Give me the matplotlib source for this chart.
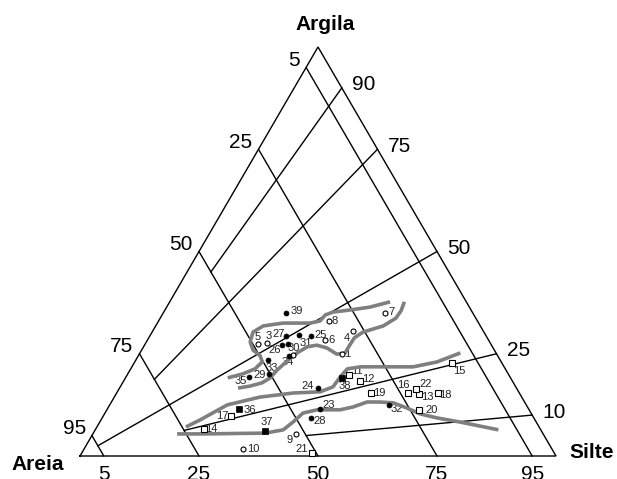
import matplotlib
matplotlib.use('Agg')
import matplotlib.pyplot as plt

plt.rcParams['font.family'] = ['Liberation Sans', 'DejaVu Sans']

# sample compositions (%)
ids = ['1', '3', '4', '5', '6', '7', '8', '9', '10', '34',
       '23', '24', '25', '26', '', '27', '28', '29', '30', '31', '32', '33', '35', '39',
       '11', '12', '13', '14', '15', '16', '17', '18', '19', '20', '21', '22',
       '36', '37', '38']
areia = [32.5, 47.0, 27.5, 49.0, 34.4, 18.4, 31.2, 51.9, 64.9, 42.9,
         43.9, 41.8, 36.9, 43.9, 42.6, 42.0, 46.9, 50.2, 43.8, 39.2, 28.8, 48.9, 54.7, 39.2,
         33.5, 32.1, 21.1, 70.7, 10.4, 23.4, 63.3, 17.2, 31.3, 23.2, 50.9, 21.2,
         60.8, 58.1, 35.4]
silte = [42.5, 25.4, 42.0, 23.6, 37.3, 46.6, 35.8, 42.6, 33.4, 32.5,
         44.7, 41.6, 33.8, 28.9, 29.9, 28.7, 43.8, 29.7, 31.8, 31.3, 58.7, 27.7, 25.9, 25.9,
         46.7, 49.6, 63.7, 22.7, 66.9, 61.3, 26.9, 67.5, 53.4, 65.6, 48.4, 62.4,
         27.8, 35.8, 45.6]
argila = [25.0, 27.6, 30.5, 27.4, 28.3, 35.0, 33.0, 5.5, 1.7, 24.6,
          11.4, 16.6, 29.3, 27.2, 27.5, 29.3, 9.3, 20.1, 24.4, 29.5, 12.5, 23.4, 19.4, 34.9,
          19.8, 18.3, 15.2, 6.6, 22.7, 15.3, 9.8, 15.3, 15.3, 11.2, 0.7, 16.4,
          11.4, 6.1, 19.0]
kind = ['oc'] * 10 + ['fc'] * 14 + ['os'] * 12 + ['fs'] * 3

# classification grid
sand_lines = [5, 25, 50, 75, 95]
ratio_lines = [90, 75, 50, 25, 10]      # argila / (argila + silte), %
ratio_stop = [50, 75, 95, 75, 50]       # areia % where each ratio line ends

# grey group boundaries, (silte %, argila %)
top_upper = [(21.5, 19.1), (24.2, 20.1), (26.1, 21.3), (26.8, 23.0), (25.6, 24.5),
             (23.4, 25.9), (21.8, 27.9), (21.2, 30.3), (22.6, 31.8), (26.4, 32.5),
             (32.1, 32.5), (33.9, 33.0), (34.3, 34.5), (35.6, 35.2), (38.9, 35.7),
             (42.7, 36.4), (46.3, 37.7)]
top_lower = [(24.9, 16.6), (27.2, 17.1), (29.3, 17.9), (30.4, 19.1), (30.9, 21.0),
             (31.9, 23.2), (33.0, 25.2), (34.4, 26.7), (36.2, 27.1), (38.7, 26.4),
             (41.5, 24.9), (43.1, 25.2), (43.1, 26.9), (43.2, 28.9), (44.3, 30.3),
             (47.8, 31.8), (49.5, 33.7), (49.7, 35.5), (49.3, 37.7)]
middle = [(18.7, 7.1), (20.8, 8.8), (24.7, 12.5), (30.6, 14.4), (37.1, 15.4),
          (42.6, 15.7), (44.7, 16.9), (45.0, 19.3), (45.5, 21.3), (48.0, 21.8),
          (53.6, 21.8), (59.1, 21.8), (63.5, 23.0), (67.3, 25.2)]
bottom = [(17.7, 5.4), (23.2, 5.4), (36.1, 5.6), (39.5, 6.4), (40.6, 8.3),
          (41.6, 10.5), (44.2, 11.3), (49.0, 11.3), (51.4, 12.0), (53.7, 13.2),
          (56.4, 13.2), (59.3, 13.0), (62.9, 11.7), (66.3, 10.3), (70.4, 9.3),
          (75.7, 8.3), (84.7, 6.4)]

# label offsets in pixels (dx right, dy down) from each point
label_off = {'1': (5, 0), '3': (2, -7), '4': (-6, 7), '5': (0, -7), '6': (7, 0),
             '7': (6, -1), '8': (6, 0), '9': (-6, 6), '10': (10, 0), '34': (-5, 7),
             '23': (9, -4), '24': (-10, -2), '25': (10, -1), '26': (-8, 5), '27': (-8, -2),
             '28': (9, 3), '29': (-10, 1), '30': (4, -8), '31': (7, 8), '32': (8, 4),
             '33': (4, 8), '35': (-9, 4), '39': (10, -2),
             '11': (7, -4), '12': (9, -2), '13': (8, 3), '14': (8, 0), '15': (7, 8),
             '16': (-5, -8), '17': (-9, 0), '18': (8, 2), '19': (9, 0), '20': (13, 0),
             '21': (-10, -4), '22': (10, -5), '36': (10, 1), '37': (2, -9), '38': (3, 8)}

PX = 0.72  # points per pixel at 100 dpi


def to_xy(s, c):
    return s / 100 + c / 200, c / 100


fig = plt.figure(figsize=(6.17, 4.79), dpi=100)
ax = fig.add_axes([0, 0, 1, 1])
ax.set_xlim(-80 / 476, 537 / 476)
ax.set_ylim(-23 / 409, 456 / 409)
ax.axis('off')

lw = 1.0
# triangle
tx, ty = zip(*[to_xy(0, 0), to_xy(100, 0), to_xy(0, 100), to_xy(0, 0)])
ax.plot(tx, ty, color='black', lw=lw, solid_joinstyle='miter')

# constant areia lines
for a in sand_lines:
    x0, y0 = to_xy(0, 100 - a)
    x1, y1 = to_xy(100 - a, 0)
    ax.plot([x0, x1], [y0, y1], color='black', lw=lw)
    ax.annotate(str(a), (x0, y0), xytext=(-6 * PX, 7 * PX), textcoords='offset points',
                ha='right', va='center', fontsize=15)
    ax.annotate(str(100 - a), (x1, y1), xytext=(0, -9 * PX), textcoords='offset points',
                ha='center', va='top', fontsize=15)

# argila/silte ratio lines
for f, stop in zip(ratio_lines, ratio_stop):
    x0, y0 = to_xy(100 - f, f)
    fines = 100 - stop
    x1, y1 = to_xy(fines * (100 - f) / 100, fines * f / 100)
    ax.plot([x0, x1], [y0, y1], color='black', lw=lw)
    ax.annotate(str(f), (x0, y0), xytext=(10 * PX, 3 * PX), textcoords='offset points',
                ha='left', va='center', fontsize=15)

# grey boundaries
for curve in [top_upper, top_lower, middle, bottom]:
    xs, ys = zip(*[to_xy(s, c) for s, c in curve])
    ax.plot(xs, ys, color='#7f7f7f', lw=2.6, solid_joinstyle='round',
            solid_capstyle='butt', zorder=3)

# samples
styles = {'oc': dict(marker='o', mfc='white', mec='black', ms=3.6, mew=0.8),
          'fc': dict(marker='o', mfc='black', mec='black', ms=3.6, mew=0.5),
          'os': dict(marker='s', mfc='white', mec='black', ms=4.0, mew=0.8),
          'fs': dict(marker='s', mfc='black', mec='black', ms=4.6, mew=0.5)}
for name, a, s, c, k in zip(ids, areia, silte, argila, kind):
    tot = a + s + c
    x, y = to_xy(100 * s / tot, 100 * c / tot)
    ax.plot([x], [y], ls='none', zorder=4, **styles[k])
    if name:
        dx, dy = label_off[name]
        ax.annotate(name, (x, y), xytext=(dx * PX, -dy * PX), textcoords='offset points',
                    ha='center', va='center', fontsize=8, color='#222222', zorder=2)

# corner labels
ax.annotate('Argila', to_xy(0, 100), xytext=(7 * PX, 23 * PX), textcoords='offset points',
            ha='center', va='center', fontsize=15, fontweight='bold')
ax.annotate('Areia', to_xy(0, 0), xytext=(-42 * PX, -8 * PX), textcoords='offset points',
            ha='center', va='center', fontsize=15, fontweight='bold')
ax.annotate('Silte', to_xy(100, 0), xytext=(36 * PX, 3 * PX), textcoords='offset points',
            ha='center', va='center', fontsize=15, fontweight='bold')

fig.savefig('out.png', dpi=100, facecolor='white')
